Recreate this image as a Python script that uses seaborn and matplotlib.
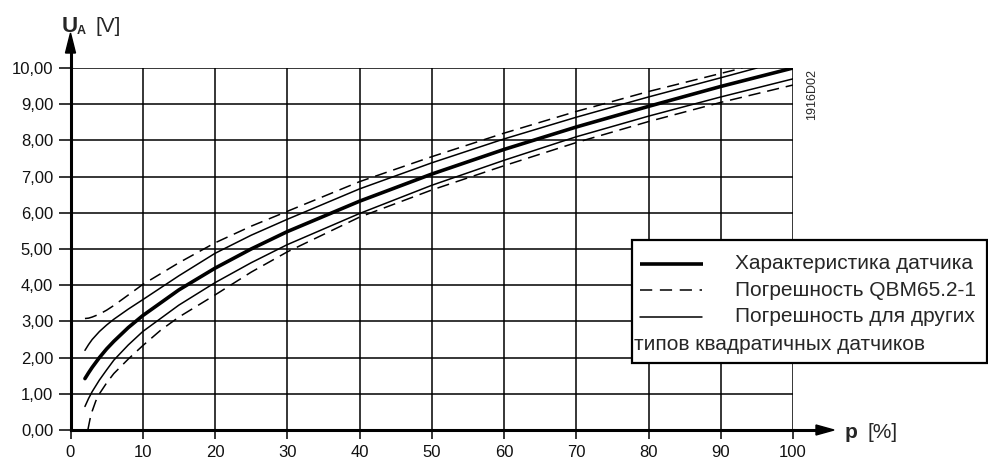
import matplotlib
matplotlib.use("Agg")
import matplotlib.pyplot as plt
from matplotlib.patches import Polygon, Rectangle
import seaborn as sns

sns.set_theme(style="white")
plt.rcParams['font.family'] = ['Liberation Sans', 'DejaVu Sans']

# ---- data ----
x_ticks = [0, 10, 20, 30, 40, 50, 60, 70, 80, 90, 100]
x_tick_labels = ["0", "10", "20", "30", "40", "50", "60", "70", "80", "90", "100"]
y_ticks = [0, 1, 2, 3, 4, 5, 6, 7, 8, 9, 10]
y_tick_labels = ["0,00", "1,00", "2,00", "3,00", "4,00", "5,00", "6,00", "7,00", "8,00", "9,00", "10,00"]

p_main = [2, 2.5, 3, 4, 5, 6, 8, 10, 15, 20, 25, 30, 40, 50, 60, 70, 80, 90, 100]
u_main = [1.42, 1.58, 1.73, 2.0, 2.24, 2.45, 2.83, 3.16, 3.87, 4.47, 5.0, 5.48, 6.32, 7.07, 7.75, 8.37, 8.94, 9.49, 10.0]

p_thin_up = [2, 2.5, 3, 4, 5, 6, 8, 10, 15, 20, 25, 30, 40, 50, 60, 70, 80, 90, 95]
u_thin_up = [2.2, 2.36, 2.5, 2.72, 2.9, 3.06, 3.34, 3.6, 4.26, 4.88, 5.38, 5.82, 6.66, 7.38, 8.04, 8.64, 9.2, 9.73, 10.0]

p_thin_lo = [2, 2.5, 3, 4, 5, 6, 8, 10, 15, 20, 25, 30, 40, 50, 60, 70, 80, 90, 100]
u_thin_lo = [0.65, 0.87, 1.06, 1.38, 1.66, 1.93, 2.35, 2.72, 3.45, 4.07, 4.62, 5.12, 5.98, 6.76, 7.45, 8.1, 8.67, 9.2, 9.7]

p_dash_up = [2, 2.5, 3, 4, 5, 6, 8, 10, 15, 20, 25, 30, 40, 50, 60, 70, 80, 90, 93]
u_dash_up = [3.08, 3.09, 3.12, 3.2, 3.31, 3.44, 3.73, 4.02, 4.62, 5.17, 5.63, 6.04, 6.86, 7.55, 8.2, 8.8, 9.35, 9.85, 10.0]

p_dash_lo = [2.4, 2.7, 3, 3.5, 4, 5, 6, 8, 10, 12.5, 15, 20, 25, 30, 40, 50, 60, 70, 80, 90, 100]
u_dash_lo = [0.0, 0.3, 0.52, 0.8, 1.0, 1.3, 1.56, 1.96, 2.33, 2.76, 3.12, 3.73, 4.36, 4.92, 5.88, 6.63, 7.3, 7.94, 8.52, 9.05, 9.53]

legend_labels = ["Характеристика датчика", "Погрешность QBM65.2-1",
                 "Погрешность для других", "типов квадратичных датчиков"]

W, H = 988, 459
fig = plt.figure(figsize=(W / 100, H / 100), dpi=100)
fig.patch.set_facecolor("white")

# main axes: x 0..100 -> px 70.5..793, y 0..10 -> px 430..68
x0, x1, y0, y1 = 70.5, 793, 430, 68
ax = fig.add_axes([x0 / W, (H - y0) / H, (x1 - x0) / W, (y0 - y1) / H])
ax.set_facecolor("white")
ax.set_xlim(0, 100)
ax.set_ylim(0, 10)
ax.set_xticks(x_ticks)
ax.set_xticklabels(x_tick_labels)
ax.set_yticks(y_ticks)
ax.set_yticklabels(y_tick_labels)
ax.grid(True, color="black", lw=1.1)
ax.set_axisbelow(True)
for s in ["top", "right"]:
    ax.spines[s].set_visible(False)
for s in ["left", "bottom"]:
    ax.spines[s].set_linewidth(2.2)
    ax.spines[s].set_color("black")
ax.tick_params(axis="y", direction="out", length=8.5, width=1.1, color="black",
               labelsize=12, pad=4, left=True)
ax.tick_params(axis="x", direction="out", length=6.5, width=1.1, color="black",
               labelsize=12, pad=4, bottom=True)
for lab in ax.get_xticklabels() + ax.get_yticklabels():
    lab.set_color("#111111")

dash = (0, (8, 4.5))
sns.lineplot(x=p_dash_up, y=u_dash_up, ax=ax, color="black", lw=1.1, linestyle=dash, sort=False)
sns.lineplot(x=p_dash_lo, y=u_dash_lo, ax=ax, color="black", lw=1.1, linestyle=dash, sort=False)
sns.lineplot(x=p_thin_up, y=u_thin_up, ax=ax, color="black", lw=1.1, sort=False)
sns.lineplot(x=p_thin_lo, y=u_thin_lo, ax=ax, color="black", lw=1.1, sort=False)
sns.lineplot(x=p_main, y=u_main, ax=ax, color="black", lw=2.6, sort=False)
ax.set_xlabel("")
ax.set_ylabel("")

# overlay in pixel coordinates for arrows, labels and legend box
ov = fig.add_axes([0, 0, 1, 1], zorder=5)
ov.set_xlim(0, W)
ov.set_ylim(H, 0)
ov.axis("off")
ov.patch.set_alpha(0)

# y arrow
ov.plot([x0, x0], [y1, 50], color="black", lw=2.2, solid_capstyle="butt")
ov.add_patch(Polygon([[x0 - 5, 53], [x0 + 5, 53], [x0, 33]], closed=True, color="black"))
# x arrow
ov.plot([x1, 818], [y0, y0], color="black", lw=2.2, solid_capstyle="butt")
ov.add_patch(Polygon([[816, y0 - 5], [816, y0 + 5], [834, y0]], closed=True, color="black"))

# axis labels
ov.text(62, 32.5, "U", fontsize=16, fontweight="bold", va="baseline", ha="left")
ov.text(76.5, 33.5, "A", fontsize=9, fontweight="bold", va="baseline", ha="left")
ov.text(95, 32.5, "[V]", fontsize=15, va="baseline", ha="left")
ov.text(845, 437.5, "p", fontsize=15, fontweight="bold", va="baseline", ha="left")
ov.text(867, 437.5, "[%]", fontsize=15, va="baseline", ha="left")

# code
ov.text(812, 94, "1916D02", fontsize=9, rotation=90, va="center", ha="center")

# legend box
ov.add_patch(Rectangle((632, 240), 355, 123, facecolor="white", edgecolor="black", lw=1.6))
ov.plot([640, 703], [263.5, 263.5], color="black", lw=2.6, solid_capstyle="butt")
ov.plot([640, 702], [290, 290], color="black", lw=1.1, linestyle=(0, (8, 5)))
ov.plot([640, 702], [317, 317], color="black", lw=1.1)
fs_leg = 15
ov.text(735, 263.5, legend_labels[0], fontsize=fs_leg, va="center", ha="left")
ov.text(735, 290, legend_labels[1], fontsize=fs_leg, va="center", ha="left")
ov.text(735, 317, legend_labels[2], fontsize=fs_leg, va="center", ha="left")
ov.text(634, 344, legend_labels[3], fontsize=fs_leg, va="center", ha="left")

fig.savefig("out.png", dpi=100, facecolor="white")
